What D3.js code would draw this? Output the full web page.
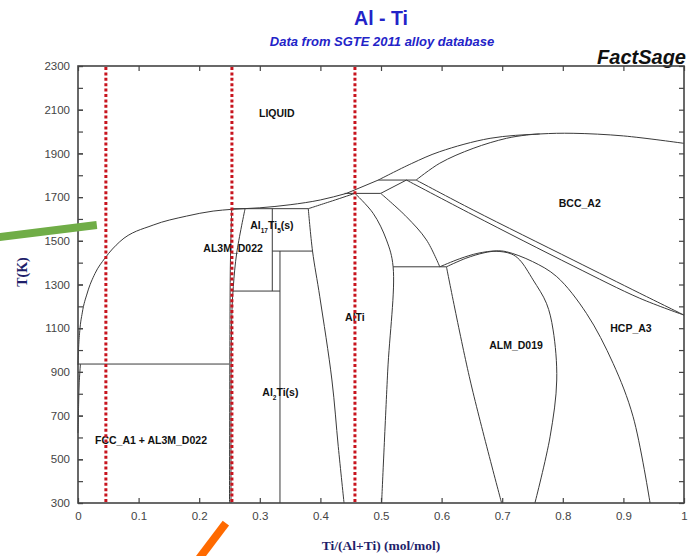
<!DOCTYPE html>
<html>
  <head>
    <meta charset="utf-8">
    <title>Al - Ti</title>
    <script src="https://d3js.org/d3.v7.min.js"></script>
    <style>
      body { margin: 0; background: #fff; }
      svg { display: block; font-family: Arial, "Liberation Sans", sans-serif; }
      .phase { fill: none; stroke: #3a3a3a; stroke-width: 1; }
      .lbl { font-size: 10.5px; font-weight: bold; fill: #111; }
      .axis text { font-size: 11.5px; fill: #444; font-family: Arial, "Liberation Sans", sans-serif; }
      .axis line { stroke: #444; stroke-width: 1.2; }
      .axis path { display: none; }
    </style>
  </head>
  <body>
    <svg id="chart" width="692" height="556"></svg>
    <script>
// axis ticks
var xTicks = [0, 0.1, 0.2, 0.3, 0.4, 0.5, 0.6, 0.7, 0.8, 0.9, 1];
var yTicks = [300, 500, 700, 900, 1100, 1300, 1500, 1700, 1900, 2100, 2300];
var yMinor = d3.range(300, 2301, 100);

// phase boundaries, [x Ti, T K]
var liqAl = [[0, 932], [0.001, 1010], [0.003, 1090], [0.007, 1170], [0.0153, 1261], [0.028, 1350],
             [0.0446, 1421], [0.069, 1496], [0.124, 1572], [0.179, 1613], [0.223, 1636], [0.254, 1644],
             [0.30, 1651], [0.35, 1665], [0.40, 1687], [0.443, 1717]];
var liqMid = [[0.443, 1717], [0.4955, 1778]];
var liqTi = [[0.4955, 1778], [0.55, 1853], [0.597, 1908], [0.68, 1969], [0.762, 1989], [0.817, 1992],
             [0.90, 1980], [1.0, 1946]];
var bccSolidus = [[0.558, 1778], [0.597, 1855], [0.652, 1923], [0.707, 1969], [0.740, 1984], [0.762, 1989]];
var fccSolvus = [[0.004, 936], [0.002, 850], [0.001, 750], [0, 620]];
var al3mLeft = [[0.2536, 1644], [0.2515, 1400], [0.2508, 1138], [0.250, 300]];
var al3mRight = [[0.2756, 1646], [0.2619, 1444], [0.2563, 1290], [0.2536, 1138], [0.2525, 300]];
var alTiLeft = [[0.380, 1647], [0.387, 1453], [0.399, 1244], [0.419, 863], [0.4295, 558], [0.439, 300]];
var alTiTop = [[0.380, 1647], [0.42, 1683], [0.457, 1717]];
var alTiRight = [[0.457, 1717], [0.487, 1626], [0.509, 1504], [0.520, 1381], [0.511, 900], [0.501, 300]];
var bccEdge = [[0.4995, 1717], [0.542, 1610], [0.575, 1504], [0.597, 1381]];
var transusLow = [[0.542, 1778], [0.652, 1618], [0.817, 1385], [0.927, 1237], [1.0, 1160]];
var transusHigh = [[0.558, 1778], [0.652, 1641], [0.817, 1412], [0.927, 1260], [1.0, 1160]];
var almOuter = [[0.597, 1381], [0.63, 1418], [0.66, 1443], [0.69, 1454], [0.707, 1450], [0.75, 1405],
                [0.790, 1336], [0.839, 1168], [0.883, 939], [0.916, 695], [0.944, 300]];
var almInner = [[0.608, 1381], [0.64, 1420], [0.67, 1445], [0.69, 1452], [0.715, 1440], [0.729, 1412],
                [0.751, 1321], [0.773, 1214], [0.784, 1092], [0.790, 863], [0.779, 603], [0.754, 300]];
var almLeft = [[0.608, 1381], [0.647, 863], [0.699, 300]];

// straight tie lines and compound lines
var straights = [
  [[0, 936], [0.2495, 936]],
  [[0.2536, 1647], [0.380, 1647]],
  [[0.3206, 1453], [0.387, 1453]],
  [[0.2555, 1270], [0.3333, 1270]],
  [[0.3206, 1270], [0.3206, 1647]],
  [[0.3333, 300], [0.3333, 1453]],
  [[0.440, 1717], [0.4995, 1717]],
  [[0.4995, 1717], [0.542, 1778]],
  [[0.4955, 1778], [0.558, 1778]],
  [[0.520, 1381], [0.608, 1381]],
  liqMid
];
var curves = [liqTi, bccSolidus, fccSolvus, al3mLeft, al3mRight, alTiLeft, alTiTop, alTiRight,
              bccEdge, transusLow, transusHigh, almOuter, almInner, almLeft];

// red dotted compositions
var redX = [0.046, 0.254, 0.457];

// hand drawn markers
var greenMark = [[-0.135, 1515], [0.031, 1572]];
var orangeMark = [[0.1955, 30], [0.244, 208]];

// region labels
var labels = [
  {x: 0.328, t: 2085, parts: [["LIQUID"]]},
  {x: 0.320, t: 1572, parts: [["Al"], ["17", 1], ["Ti"], ["5", 1], ["(s)"]]},
  {x: 0.256, t: 1467, parts: [["AL3M_D022"]]},
  {x: 0.334, t: 808, parts: [["Al"], ["2", 1], ["Ti(s)"]]},
  {x: 0.457, t: 1151, parts: [["AlTi"]]},
  {x: 0.828, t: 1673, parts: [["BCC_A2"]]},
  {x: 0.9125, t: 1101, parts: [["HCP_A3"]]},
  {x: 0.7228, t: 1023, parts: [["ALM_D019"]]},
  {x: 0.1205, t: 588, parts: [["FCC_A1 + AL3M_D022"]]}
];

var svg = d3.select("#chart");
var x = d3.scaleLinear().domain([0, 1]).range([78, 684]);
var y = d3.scaleLinear().domain([300, 2300]).range([503, 66]);

// titles
svg.append("text").attr("x", 381).attr("y", 25).attr("text-anchor", "middle")
  .style("font-size", "19.5px").style("font-weight", "bold").style("fill", "#2323c8").text("Al - Ti");
svg.append("text").attr("x", 382).attr("y", 46).attr("text-anchor", "middle")
  .style("font-size", "13px").style("font-weight", "bold").style("font-style", "italic")
  .style("fill", "#2323c8").text("Data from SGTE 2011 alloy database");
svg.append("text").attr("x", 686).attr("y", 64).attr("text-anchor", "end")
  .style("font-size", "20px").style("font-weight", "bold").style("font-style", "italic")
  .style("fill", "#111").text("FactSage");

// phase lines
var line = d3.line().x(function(d) { return x(d[0]); }).y(function(d) { return y(d[1]); });
var smooth = d3.line().curve(d3.curveCatmullRom.alpha(0.5))
  .x(function(d) { return x(d[0]); }).y(function(d) { return y(d[1]); });
var mono = d3.line().curve(d3.curveMonotoneX)
  .x(function(d) { return x(d[0]); }).y(function(d) { return y(d[1]); });

var g = svg.append("g");
g.append("path").datum(liqAl).attr("class", "phase").attr("d", mono);
g.selectAll("path.c").data(curves).enter().append("path")
  .attr("class", "phase c").attr("d", smooth);
g.selectAll("path.s").data(straights).enter().append("path")
  .attr("class", "phase s").attr("d", line);

// labels
labels.forEach(function(l) {
  var t = g.append("text").attr("class", "lbl").attr("x", x(l.x)).attr("y", y(l.t))
    .attr("dy", "0.35em").attr("text-anchor", "middle");
  l.parts.forEach(function(p) {
    var s = t.append("tspan").text(p[0]);
    if (p[1]) s.style("font-size", "6.5px").attr("baseline-shift", "sub");
  });
});

// red dotted lines
svg.append("g").selectAll("line").data(redX).enter().append("line")
  .attr("x1", function(d) { return x(d); }).attr("x2", function(d) { return x(d); })
  .attr("y1", y(2300) + 1).attr("y2", y(300) - 1)
  .attr("stroke", "#c8141e").attr("stroke-width", 3).attr("stroke-dasharray", "3,2.4");

// axes
svg.append("g").attr("class", "axis").attr("transform", "translate(0," + y(300) + ")")
  .call(d3.axisBottom(x).tickValues(xTicks).tickSizeInner(-5).tickSizeOuter(0).tickPadding(9)
    .tickFormat(function(d) { return d === 0 || d === 1 ? d : d3.format(".1f")(d); }));
svg.append("g").attr("class", "axis").attr("transform", "translate(0," + y(2300) + ")")
  .call(d3.axisTop(x).tickValues(xTicks).tickSizeInner(-5).tickSizeOuter(0).tickFormat(""));
svg.append("g").attr("class", "axis").attr("transform", "translate(" + x(0) + ",0)")
  .call(d3.axisLeft(y).tickValues(yMinor).tickSizeInner(-5).tickSizeOuter(0).tickFormat(""));
svg.append("g").attr("class", "axis").attr("transform", "translate(" + x(0) + ",0)")
  .call(d3.axisLeft(y).tickValues(yTicks).tickSizeInner(-5).tickSizeOuter(0).tickPadding(8)
    .tickFormat(d3.format("d")));
svg.append("g").attr("class", "axis").attr("transform", "translate(" + x(1) + ",0)")
  .call(d3.axisRight(y).tickValues(yMinor).tickSizeInner(-5).tickSizeOuter(0).tickFormat(""));

// frame
svg.append("rect").attr("x", x(0)).attr("y", y(2300)).attr("width", x(1) - x(0)).attr("height", y(300) - y(2300))
  .attr("fill", "none").attr("stroke", "#444").attr("stroke-width", 1.6);

// axis titles
svg.append("text").attr("x", 381).attr("y", 550).attr("text-anchor", "middle")
  .style("font-family", "'Liberation Serif', 'DejaVu Serif', serif").style("font-size", "13.5px")
  .style("font-weight", "bold").style("fill", "#1f1f6b").text("Ti/(Al+Ti) (mol/mol)");
svg.append("text").attr("transform", "translate(27,272) rotate(-90)").attr("text-anchor", "middle")
  .style("font-family", "'Liberation Serif', 'DejaVu Serif', serif").style("font-size", "14px")
  .style("font-weight", "bold").style("fill", "#1f1f6b").text("T(K)");

// markers
svg.append("path").datum(greenMark).attr("d", line)
  .attr("stroke", "#70ad47").attr("stroke-width", 8).attr("fill", "none");
svg.append("path").datum(orangeMark).attr("d", line)
  .attr("stroke", "#ff6a00").attr("stroke-width", 8).attr("fill", "none");
    </script>
  </body>
</html>
